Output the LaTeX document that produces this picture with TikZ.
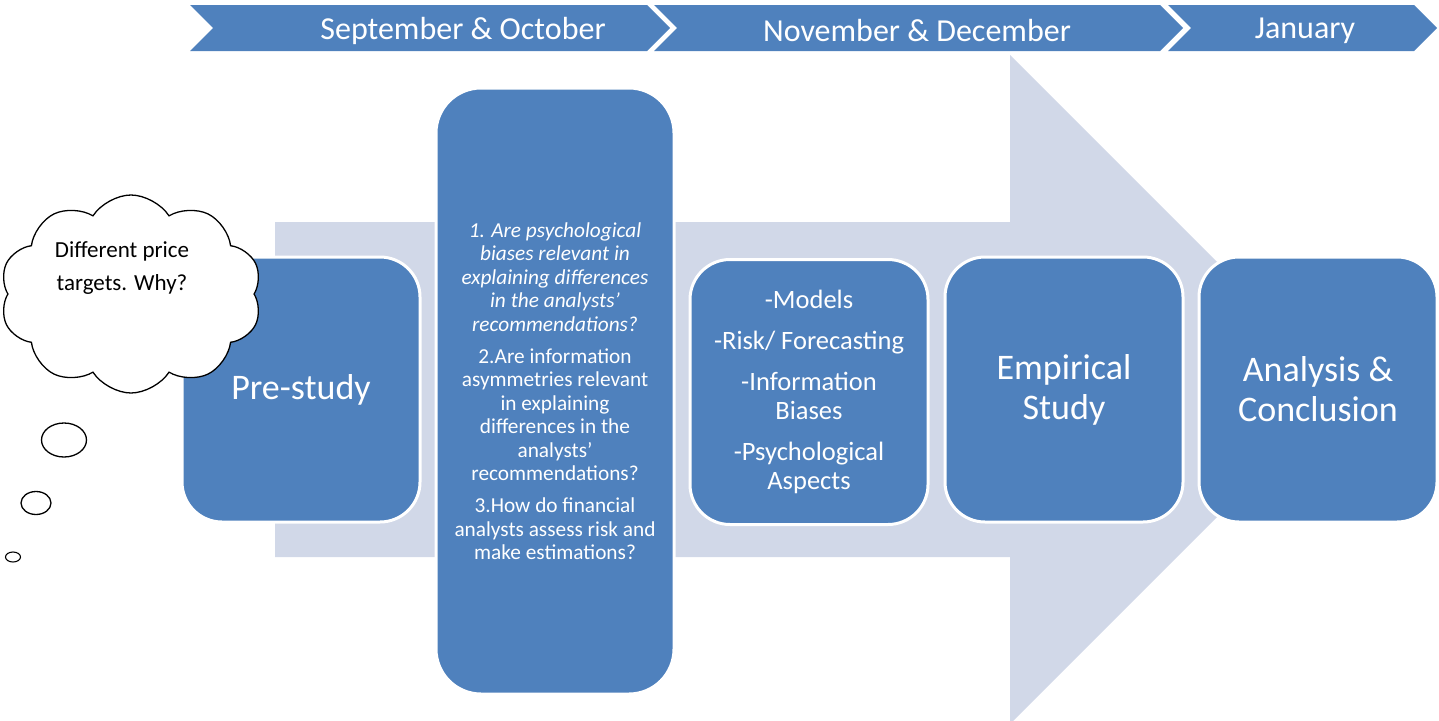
\documentclass[tikz,border=0pt]{standalone}
\usepackage{fontspec}
\setmainfont{Carlito}
\usetikzlibrary{shapes.symbols,shapes.geometric}
\definecolor{boxblue}{HTML}{4F81BD}
\definecolor{arrowgray}{HTML}{D1D8E8}
\begin{document}
\begin{tikzpicture}[x=1pt,y=-1pt,
  chevron/.style={fill=boxblue},
  chevtxt/.style={text=white, font=\fontsize{32}{36}\selectfont, inner sep=0pt},
  stage/.style={rectangle, rounded corners=40pt, fill=boxblue, draw=white, line width=3pt,
     minimum width=238pt, minimum height=265pt, text=white, align=center, inner sep=0pt},
  bigtxt/.style={font=\fontsize{36}{40}\selectfont},
  bub/.style={ellipse, draw=black, fill=white, line width=1.3pt, inner sep=0pt}
]
\useasboundingbox (0,0) rectangle (1439,720);
% timeline chevrons
\fill[chevron] (190,5) -- (647,5) -- (670,28) -- (647,51) -- (190,51) -- (213,28) -- cycle;
\fill[chevron] (654,5) -- (1160,5) -- (1183,28) -- (1160,51) -- (654,51) -- (677,28) -- cycle;
\fill[chevron] (1168,5) -- (1414,5) -- (1437,28) -- (1414,51) -- (1168,51) -- (1191,28) -- cycle;
\node[chevtxt] (m1) at (463,31) {September \& October};
\node[chevtxt] (m2) at (917,31) {November \& December};
\node[chevtxt] (m3) at (1305,31) {January};
% big background arrow
\fill[arrowgray] (275,222) -- (1010,222) -- (1010,55) -- (1344.5,389.5) -- (1010,724) -- (1010,557) -- (275,557) -- cycle;
% stage boxes
\node[stage, bigtxt] (pre) at (301,389.5) {Pre-study};
\node[stage, minimum height=606pt, rounded corners=45pt,
      font=\fontsize{21.3}{23.5}\selectfont] (q) at (555,391)
  {\itshape 1. Are psychological\\ \itshape biases relevant in\\ \itshape explaining differences\\ \itshape in the analysts’\\ \itshape recommendations?\\[8.5pt]
   2.Are information\\ asymmetries relevant\\ in explaining\\ differences in the\\ analysts’\\ recommendations?\\[8.5pt]
   3.How do financial\\ analysts assess risk and\\ make estimations?};
\node[stage, font=\fontsize{26.5}{29}\selectfont] (mod) at (809,392)
  {-Models\\[12pt] -Risk/ Forecasting\\[12pt] -Information\\ Biases\\[12pt] -Psychological\\ Aspects};
\node[stage, bigtxt] (emp) at (1064,389.5) {Empirical\\ Study};
\node[stage, bigtxt] (ana) at (1318,389.5) {Analysis \&\\ Conclusion};
% thought cloud
\node[cloud, draw=black, fill=white, line width=1.3pt, cloud puffs=10, cloud puff arc=115,
      cloud ignores aspect, minimum width=262pt, minimum height=198pt] (cloud) at (131,294) {};
\node[align=center, font=\fontsize{23}{33}\selectfont, inner sep=0pt] (ctxt) at (122,268)
  {Different price\\ targets. Why?};
\node[bub, minimum width=45pt, minimum height=34pt] (b1) at (64,440) {};
\node[bub, minimum width=30pt, minimum height=23pt] (b2) at (36,503) {};
\node[bub, minimum width=15pt, minimum height=10pt, line width=1.1pt] (b3) at (13,557) {};
\end{tikzpicture}
\end{document}
